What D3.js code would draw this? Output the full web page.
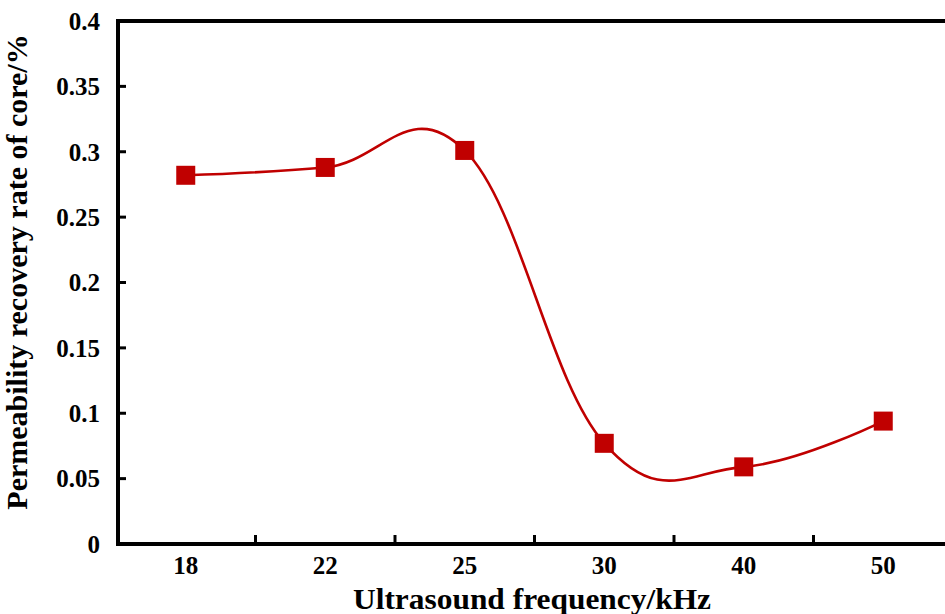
<!DOCTYPE html>
<html>
<head>
<meta charset="utf-8">
<script src="https://cdn.jsdelivr.net/npm/d3@7"></script>
<style>
html,body{margin:0;padding:0;background:#fff;overflow:hidden;}
</style>
</head>
<body>
<svg id="chart" width="945" height="614"></svg>
<script>
const categories = ["18", "22", "25", "30", "40", "50"];
const values = [0.282, 0.288, 0.301, 0.077, 0.059, 0.094];
const yTicks = [0, 0.05, 0.1, 0.15, 0.2, 0.25, 0.3, 0.35, 0.4];
const yTickLabels = ["0", "0.05", "0.1", "0.15", "0.2", "0.25", "0.3", "0.35", "0.4"];
const xTitle = "Ultrasound frequency/kHz";
const yTitle = "Permeability recovery rate of core/%";

(function () {
const svg = d3.select("#chart")
  .attr("font-family", "'Liberation Serif', 'Times New Roman', serif")
  .attr("font-weight", "bold");
const pLeft = 118, pTop = 21, pBottom = 544, pRight = 955;
const red = "#C00000";

const x = d3.scaleBand().domain(categories).range([pLeft - 2, pRight - 2]).padding(0);
const y = d3.scaleLinear().domain([0, 0.4]).range([pBottom, pTop]);

// frame lines
svg.append("line").attr("x1", pLeft).attr("x2", 945).attr("y1", pTop).attr("y2", pTop)
  .attr("stroke", "#000").attr("stroke-width", 4);
svg.append("line").attr("x1", pLeft).attr("x2", pLeft).attr("y1", pTop - 2).attr("y2", pBottom + 2)
  .attr("stroke", "#000").attr("stroke-width", 4);
svg.append("line").attr("x1", pLeft - 2).attr("x2", 945).attr("y1", pBottom).attr("y2", pBottom)
  .attr("stroke", "#000").attr("stroke-width", 4);

// y ticks (inward)
const yg = svg.append("g");
yg.selectAll("line").data(yTicks.slice(1, -1)).join("line")
  .attr("x1", pLeft).attr("x2", pLeft + 8)
  .attr("y1", d => y(d)).attr("y2", d => y(d))
  .attr("stroke", "#000").attr("stroke-width", 3);
yg.selectAll("text").data(yTicks).join("text")
  .attr("x", 100).attr("y", d => y(d)).attr("dy", "0.35em")
  .attr("text-anchor", "end").attr("font-size", 25)
  .text((d, i) => yTickLabels[i]);

// x ticks between categories (inward)
const bounds = categories.slice(1).map(c => x(c));
svg.append("g").selectAll("line").data(bounds).join("line")
  .attr("x1", d => d).attr("x2", d => d)
  .attr("y1", pBottom).attr("y2", pBottom - 9)
  .attr("stroke", "#000").attr("stroke-width", 3);
svg.append("g").selectAll("text").data(categories).join("text")
  .attr("x", d => x(d) + x.bandwidth() / 2).attr("y", 574)
  .attr("text-anchor", "middle").attr("font-size", 25)
  .text(d => d);

// titles
svg.append("text").attr("x", 532).attr("y", 609).attr("text-anchor", "middle")
  .attr("font-size", 30).attr("textLength", 358).attr("lengthAdjust", "spacingAndGlyphs")
  .text(xTitle);
svg.append("text").attr("transform", "translate(27,272) rotate(-90)")
  .attr("text-anchor", "middle").attr("font-size", 30).text(yTitle);

// line
const pts = categories.map((c, i) => [x(c) + x.bandwidth() / 2, y(values[i])]);
svg.append("path").datum(pts)
  .attr("d", d3.line().curve(d3.curveCardinal.tension(-0.2)))
  .attr("fill", "none").attr("stroke", red).attr("stroke-width", 2.6);

// markers
const ms = 19;
svg.append("g").selectAll("rect").data(pts).join("rect")
  .attr("x", d => d[0] - ms / 2).attr("y", d => d[1] - ms / 2)
  .attr("width", ms).attr("height", ms).attr("fill", red);
})();
</script>
</body>
</html>
